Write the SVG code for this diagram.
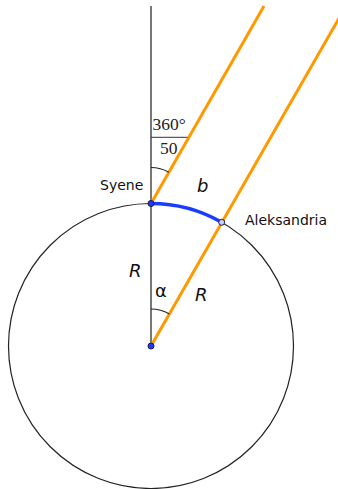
<svg xmlns="http://www.w3.org/2000/svg" width="338" height="489" viewBox="0 0 338 489">
<style>
.ray{stroke:#ff9900;stroke-width:3;fill:none;stroke-linecap:butt}
.thin{stroke:#222;stroke-width:1.2;fill:none}
.lbl{font-family:"DejaVu Sans",sans-serif;font-size:14px;fill:#111}
.it{font-family:"DejaVu Sans",sans-serif;font-style:italic;font-size:18px;fill:#111}
.srf{font-family:"Liberation Serif","DejaVu Serif",serif;font-size:17.5px;fill:#222}
</style>
<rect width="338" height="489" fill="#fff"/>
<g id="circle">
<circle cx="151" cy="346" r="142.5" class="thin"/>
</g>
<g id="connectors">
<line x1="151" y1="6" x2="151" y2="346" stroke="#555" stroke-width="1.6"/>
<line x1="151" y1="203.5" x2="264" y2="6" class="ray"/>
<line x1="151" y1="346" x2="346" y2="6" class="ray"/>
<path d="M151,203.5 A142.5,142.5 0 0,1 221.7,222.3" stroke="#1a3cff" stroke-width="3.5" fill="none"/>
<path d="M151,167.5 A36,36 0 0,1 168.8,172.2" class="thin"/>
<path d="M151,309 A37,37 0 0,1 169.3,313.9" class="thin"/>
<line x1="151" y1="137.3" x2="187.5" y2="137.3" stroke="#333" stroke-width="1"/>
</g>
<g id="syene">
<circle cx="151" cy="203.5" r="3" fill="#1a3cff" stroke="#1a1a4a" stroke-width="1"/>
<text x="100" y="190" class="lbl">Syene</text>
</g>
<g id="aleksandria">
<circle cx="221.7" cy="222.3" r="3" fill="#c8d0ff" stroke="#1a1a4a" stroke-width="1"/>
<text x="245" y="225" class="lbl">Aleksandria</text>
</g>
<g id="center">
<circle cx="151" cy="346" r="3" fill="#1a3cff" stroke="#1a1a4a" stroke-width="1"/>
</g>
<g id="labels">
<text x="152.5" y="129.5" class="srf">360°</text>
<text x="160" y="153.5" class="srf">50</text>
<text x="197" y="192" class="it" font-size="19">b</text>
<text x="129" y="277" class="it">R</text>
<text x="195" y="301" class="it">R</text>
<text x="155" y="297" font-family="DejaVu Sans,sans-serif" font-size="18" fill="#111">α</text>
</g>
</svg>
